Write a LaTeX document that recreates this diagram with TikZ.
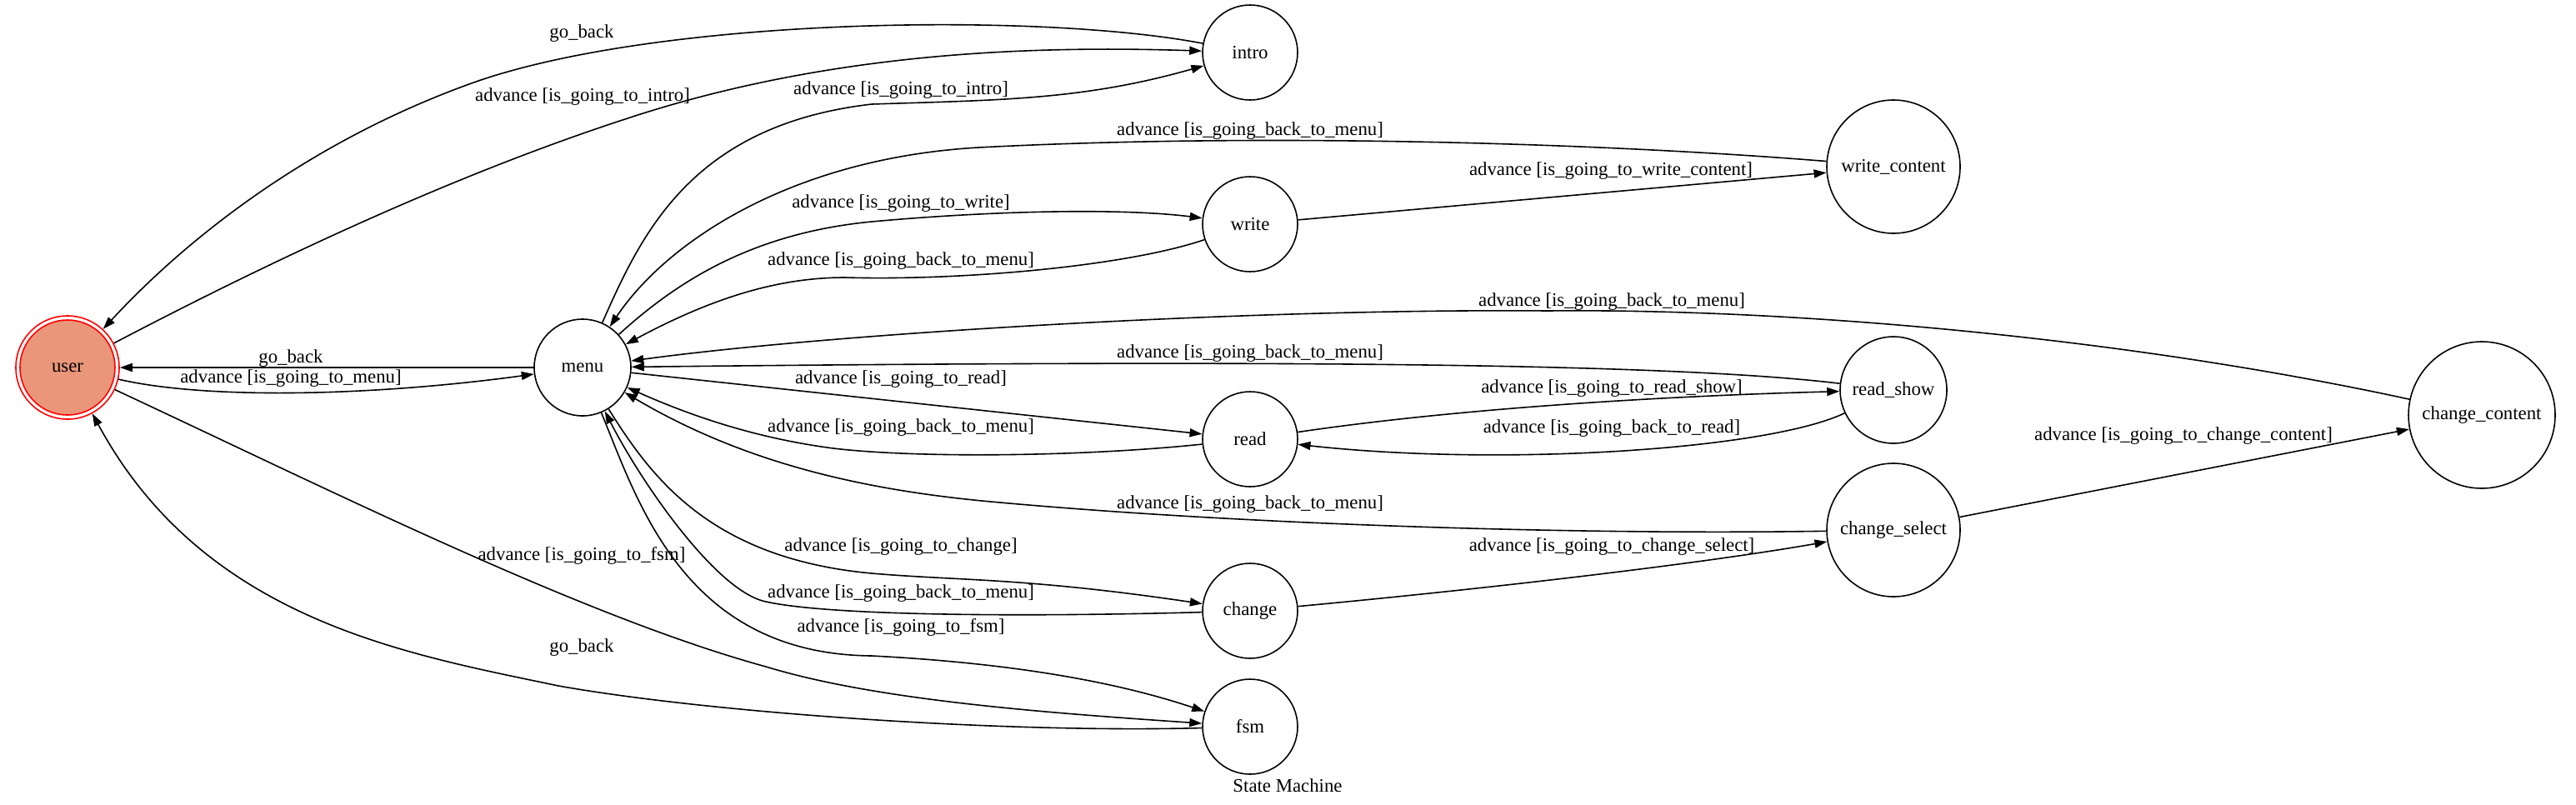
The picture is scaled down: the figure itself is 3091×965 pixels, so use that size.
\documentclass[tikz,border=0pt]{standalone}
\usepackage{fontspec}
\setmainfont{Liberation Serif}
\usetikzlibrary{arrows.meta}
\definecolor{darksalmon}{HTML}{E9967A}
\begin{document}
\begin{tikzpicture}[x=0.5pt,y=-0.5pt,
  every node/.style={font=\fontsize{11.4pt}{13pt}\selectfont},
  st/.style={circle, draw, line width=0.8pt, inner sep=0pt},
  lbl/.style={inner sep=0pt},
  tr/.style={line width=0.8pt, -{Triangle[length=7.5pt,width=5pt]}}]
\useasboundingbox (0,0) rectangle (3091,965);
% states
\node[st, draw=red, minimum size=62pt] (user) at (81,441) {};
\node[st, draw=red, fill=darksalmon, minimum size=57pt] (userin) at (user.center) {user};
\node[st, minimum size=58pt] (menu) at (699,441) {menu};
\node[st, minimum size=57pt] (intro) at (1500,63) {intro};
\node[st, minimum size=57pt] (write) at (1500,269) {write};
\node[st, minimum size=57pt] (read) at (1500,527) {read};
\node[st, minimum size=57pt] (change) at (1500,733) {change};
\node[st, minimum size=57pt] (fsm) at (1500,872) {fsm};
\node[st, minimum size=80pt] (write_content) at (2272,200) {write\_content};
\node[st, minimum size=64pt] (read_show) at (2272,468) {read\_show};
\node[st, minimum size=80pt] (change_select) at (2272,636) {change\_select};
\node[st, minimum size=88pt] (change_content) at (2978,498) {change\_content};
% transitions
\draw[tr] (intro) .. controls (1250,15) and (800,20) .. (574,97) .. controls (380,165) and (230,280) .. (user);
\draw[tr] (user) .. controls (350,300) and (560,205) .. (750,143) .. controls (1000,60) and (1250,55) .. (intro);
\draw[tr] (menu) .. controls (770,280) and (830,150) .. (1046,125) .. controls (1200,120) and (1300,120) .. (intro);
\draw[tr] (write_content) .. controls (1900,170) and (1500,160) .. (1174,177) .. controls (950,190) and (800,290) .. (menu);
\draw[tr] (menu) .. controls (810,340) and (900,280) .. (1046,266) .. controls (1200,252) and (1350,250) .. (write);
\draw[tr] (write) .. controls (1350,320) and (1150,337) .. (1014,333) .. controls (930,333) and (850,360) .. (menu);
\draw[tr] (user) .. controls (250,480) and (450,475) .. (menu);
\draw[tr] (menu) -- (user);
\draw[tr] (menu) -- (read);
\draw[tr] (read) .. controls (1300,548) and (1100,550) .. (1000,538) .. controls (900,525) and (820,495) .. (menu);
\draw[tr] (change_select) .. controls (1900,642) and (1500,630) .. (1200,603) .. controls (1050,590) and (900,560) .. (menu);
\draw[tr] (menu) .. controls (780,570) and (850,670) .. (1046,688) .. controls (1150,697) and (1230,693) .. (change);
\draw[tr] (change) .. controls (1250,740) and (1000,740) .. (919,722) .. controls (860,710) and (770,580) .. (menu);
\draw[tr] (menu) .. controls (765,600) and (820,785) .. (1046,787) .. controls (1200,795) and (1330,815) .. (fsm);
\draw[tr] (user) .. controls (400,590) and (700,740) .. (919,800) .. controls (1050,840) and (1250,855) .. (fsm);
\draw[tr] (fsm) .. controls (1200,880) and (850,855) .. (670,823) .. controls (490,785) and (245,745) .. (user);
\draw[tr] (write) -- (write_content);
\draw[tr] (change_content) .. controls (2550,405) and (2150,370) .. (1857,373) .. controls (1500,370) and (1000,400) .. (menu);
\draw[tr] (read_show) .. controls (2000,435) and (1500,432) .. (menu);
\draw[tr] (read) .. controls (1750,490) and (2000,475) .. (read_show);
\draw[tr] (read_show) .. controls (2120,540) and (1800,560) .. (read);
\draw[tr] (change) .. controls (1800,705) and (2050,675) .. (change_select);
\draw[tr] (change_select) -- (change_content);
% labels
\node[lbl] (l1) at (698,40) {go\_back};
\node[lbl] (l2) at (699,116) {advance [is\_going\_to\_intro]};
\node[lbl] (l3) at (1081,108) {advance [is\_going\_to\_intro]};
\node[lbl] (l4) at (1500,157) {advance [is\_going\_back\_to\_menu]};
\node[lbl] (l5) at (1081,244) {advance [is\_going\_to\_write]};
\node[lbl] (l6) at (1081,313) {advance [is\_going\_back\_to\_menu]};
\node[lbl] (l7) at (1934,362) {advance [is\_going\_back\_to\_menu]};
\node[lbl] (l8) at (1500,424) {advance [is\_going\_back\_to\_menu]};
\node[lbl] (l9) at (1081,455) {advance [is\_going\_to\_read]};
\node[lbl] (l10) at (1081,513) {advance [is\_going\_back\_to\_menu]};
\node[lbl] (l11) at (1934,466) {advance [is\_going\_to\_read\_show]};
\node[lbl] (l12) at (1934,514) {advance [is\_going\_back\_to\_read]};
\node[lbl] (l13) at (1500,605) {advance [is\_going\_back\_to\_menu]};
\node[lbl] (l14) at (2620,523) {advance [is\_going\_to\_change\_content]};
\node[lbl] (l15) at (1081,656) {advance [is\_going\_to\_change]};
\node[lbl] (l16) at (1081,712) {advance [is\_going\_back\_to\_menu]};
\node[lbl] (l17) at (1934,656) {advance [is\_going\_to\_change\_select]};
\node[lbl] (l18) at (1081,753) {advance [is\_going\_to\_fsm]};
\node[lbl] (l19) at (698,667) {advance [is\_going\_to\_fsm]};
\node[lbl] (l20) at (698,777) {go\_back};
\node[lbl] (l21) at (349,430) {go\_back};
\node[lbl] (l22) at (349,454) {advance [is\_going\_to\_menu]};
\node[lbl] (l23) at (1933,205) {advance [is\_going\_to\_write\_content]};
\node[lbl] (title) at (1545,943) {State Machine};
\end{tikzpicture}
\end{document}
